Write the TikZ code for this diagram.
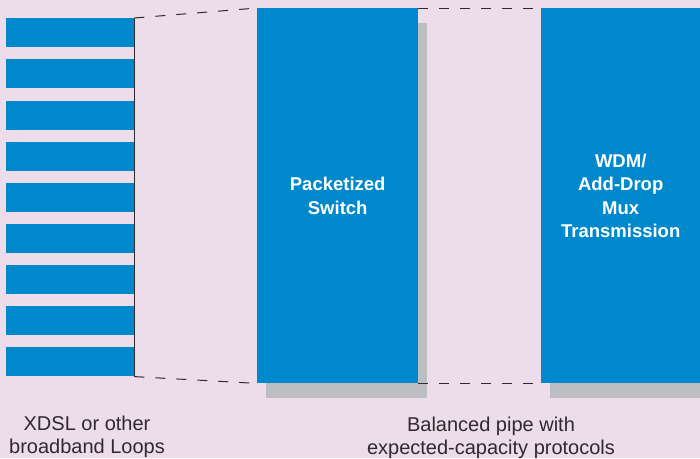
\documentclass[tikz,border=0pt]{standalone}
\usepackage{fontspec}
\setmainfont{Liberation Sans}
\usepackage{tikz}
\usetikzlibrary{positioning,shadows}
\usepackage{xcolor}
\definecolor{bgpink}{HTML}{EDDCE9}
\definecolor{boxblue}{HTML}{0088CC}
\definecolor{shadowgray}{HTML}{BDBEC1}
\definecolor{textgray}{HTML}{2E2A2D}

\begin{document}
\begin{tikzpicture}[x=1pt,y=-1pt]
    \tikzstyle{loopbar} = [rectangle,fill=boxblue,minimum width=128pt,minimum height=29pt,inner sep=0pt]
    \tikzstyle{bigbox} = [rectangle,fill=boxblue,minimum height=375pt,inner sep=0pt,text=white,font=\bfseries\fontsize{18.5}{23.5}\selectfont,align=center,drop shadow={shadow xshift=9pt,shadow yshift=-15pt,fill=shadowgray,opacity=1}]
    \tikzstyle{link} = [draw=textgray,line width=1pt,dash pattern=on 10pt off 11pt]
    %\tikzstyle{caption} = [draw=none,fill=none]
    \tikzstyle{mylabel} = [text=textgray,font=\fontsize{20}{23}\selectfont,align=center]
    \useasboundingbox (0,0) rectangle (700,458);
    \clip (0,0) rectangle (700,458);
    \fill[bgpink] (0,0) rectangle (700,458);
    \node[loopbar,anchor=north west] (bar1) at (6,18) {};
    \node[loopbar] (bar2) [below = 11.75pt of bar1] {};
    \node[loopbar] (bar3) [below = 11.75pt of bar2] {};
    \node[loopbar] (bar4) [below = 11.75pt of bar3] {};
    \node[loopbar] (bar5) [below = 11.75pt of bar4] {};
    \node[loopbar] (bar6) [below = 11.75pt of bar5] {};
    \node[loopbar] (bar7) [below = 11.75pt of bar6] {};
    \node[loopbar] (bar8) [below = 11.75pt of bar7] {};
    \node[loopbar] (bar9) [below = 11.75pt of bar8] {};
    \node[bigbox,minimum width=161pt,anchor=north west] (switch) at (257,8) {Packetized\\Switch};
    \node[bigbox,minimum width=159pt,anchor=north west] (wdm) at (541,8) {WDM/\\Add-Drop\\Mux\\Transmission};
    \draw[textgray,line width=1.3pt] (bar1.north east) -- (bar9.south east);
    \draw[link] (bar1.north east) -- (switch.north west);
    \draw[link] (bar9.south east) -- (switch.south west);
    \draw[link] (switch.north east) -- (wdm.north west);
    \draw[link] (switch.south east) -- (wdm.south west);
    \node[mylabel] (label1) at (87,437) {XDSL or other\\broadband Loops};
    \node[mylabel] (label2) at (491,437.5) {Balanced pipe with\\expected-capacity protocols};
\end{tikzpicture}
\end{document}
